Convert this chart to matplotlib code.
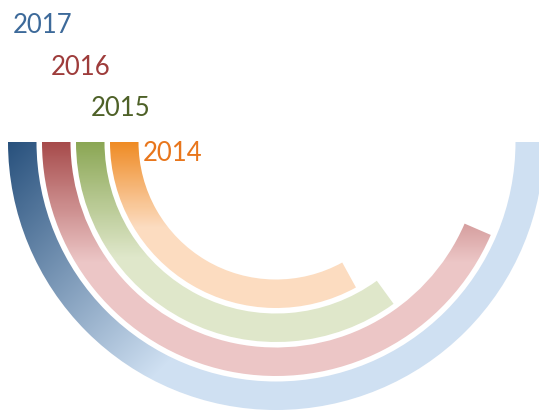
import numpy as np
import matplotlib
matplotlib.use("Agg")
import matplotlib.pyplot as plt
from matplotlib.patches import Wedge
from matplotlib.colors import to_rgb

# ---- data ----
years = ["2014", "2015", "2016", "2017"]
values = [66, 70, 87, 100]          # share of the half ring
max_value = 100

# ---- styles ----
dark_colors = ["#ef8a22", "#8aa653", "#a64a4a", "#27507c"]
light_colors = ["#fcdcc0", "#dfe7ca", "#ecc6c6", "#cfe0f2"]
label_colors = ["#e8761c", "#4e6128", "#9e3c3b", "#3d6a9a"]

W, H = 539, 411
cx, cy = 276, 142
outer_radii = [166, 200, 234, 268]
ring_width = 28.5
# gradient: (dx, dy, length) direction in pixel space
grad = [(0, 1, 85), (0, 1, 115), (0, 1, 120), (0.5, 0.5, 190)]
label_pos = [(143, 161), (91, 116), (51, 75), (13, 33)]

fig = plt.figure(figsize=(W / 100, H / 100), dpi=100)
ax = fig.add_axes([0, 0, 1, 1])
ax.set_xlim(0, W)
ax.set_ylim(H, 0)
ax.axis("off")

X, Y = np.meshgrid(np.arange(W) + 0.5, np.arange(H) + 0.5)

for i, yr in enumerate(years):
    r = outer_radii[i]
    sweep = values[i] / max_value * 180.0
    wedge = Wedge((cx, cy), r, 180 - sweep, 180, width=ring_width,
                  facecolor="none", edgecolor="none")
    ax.add_patch(wedge)
    dx, dy, L = grad[i]
    x0 = cx - r
    t = ((X - x0) * dx + (Y - cy) * dy) / L
    t = np.clip(t, 0, 1)[..., None]
    c0 = np.array(to_rgb(dark_colors[i]))
    c1 = np.array(to_rgb(light_colors[i]))
    img = c0 * (1 - t) + c1 * t
    im = ax.imshow(img, extent=(0, W, H, 0), interpolation="nearest", zorder=2)
    im.set_clip_path(wedge)
    lx, ly = label_pos[i]
    ax.text(lx, ly, yr, color=label_colors[i], fontsize=18.5, family="Lato",
            ha="left", va="baseline", zorder=3)

ax.set_xlim(0, W)
ax.set_ylim(H, 0)
fig.savefig("out.png", dpi=100)
